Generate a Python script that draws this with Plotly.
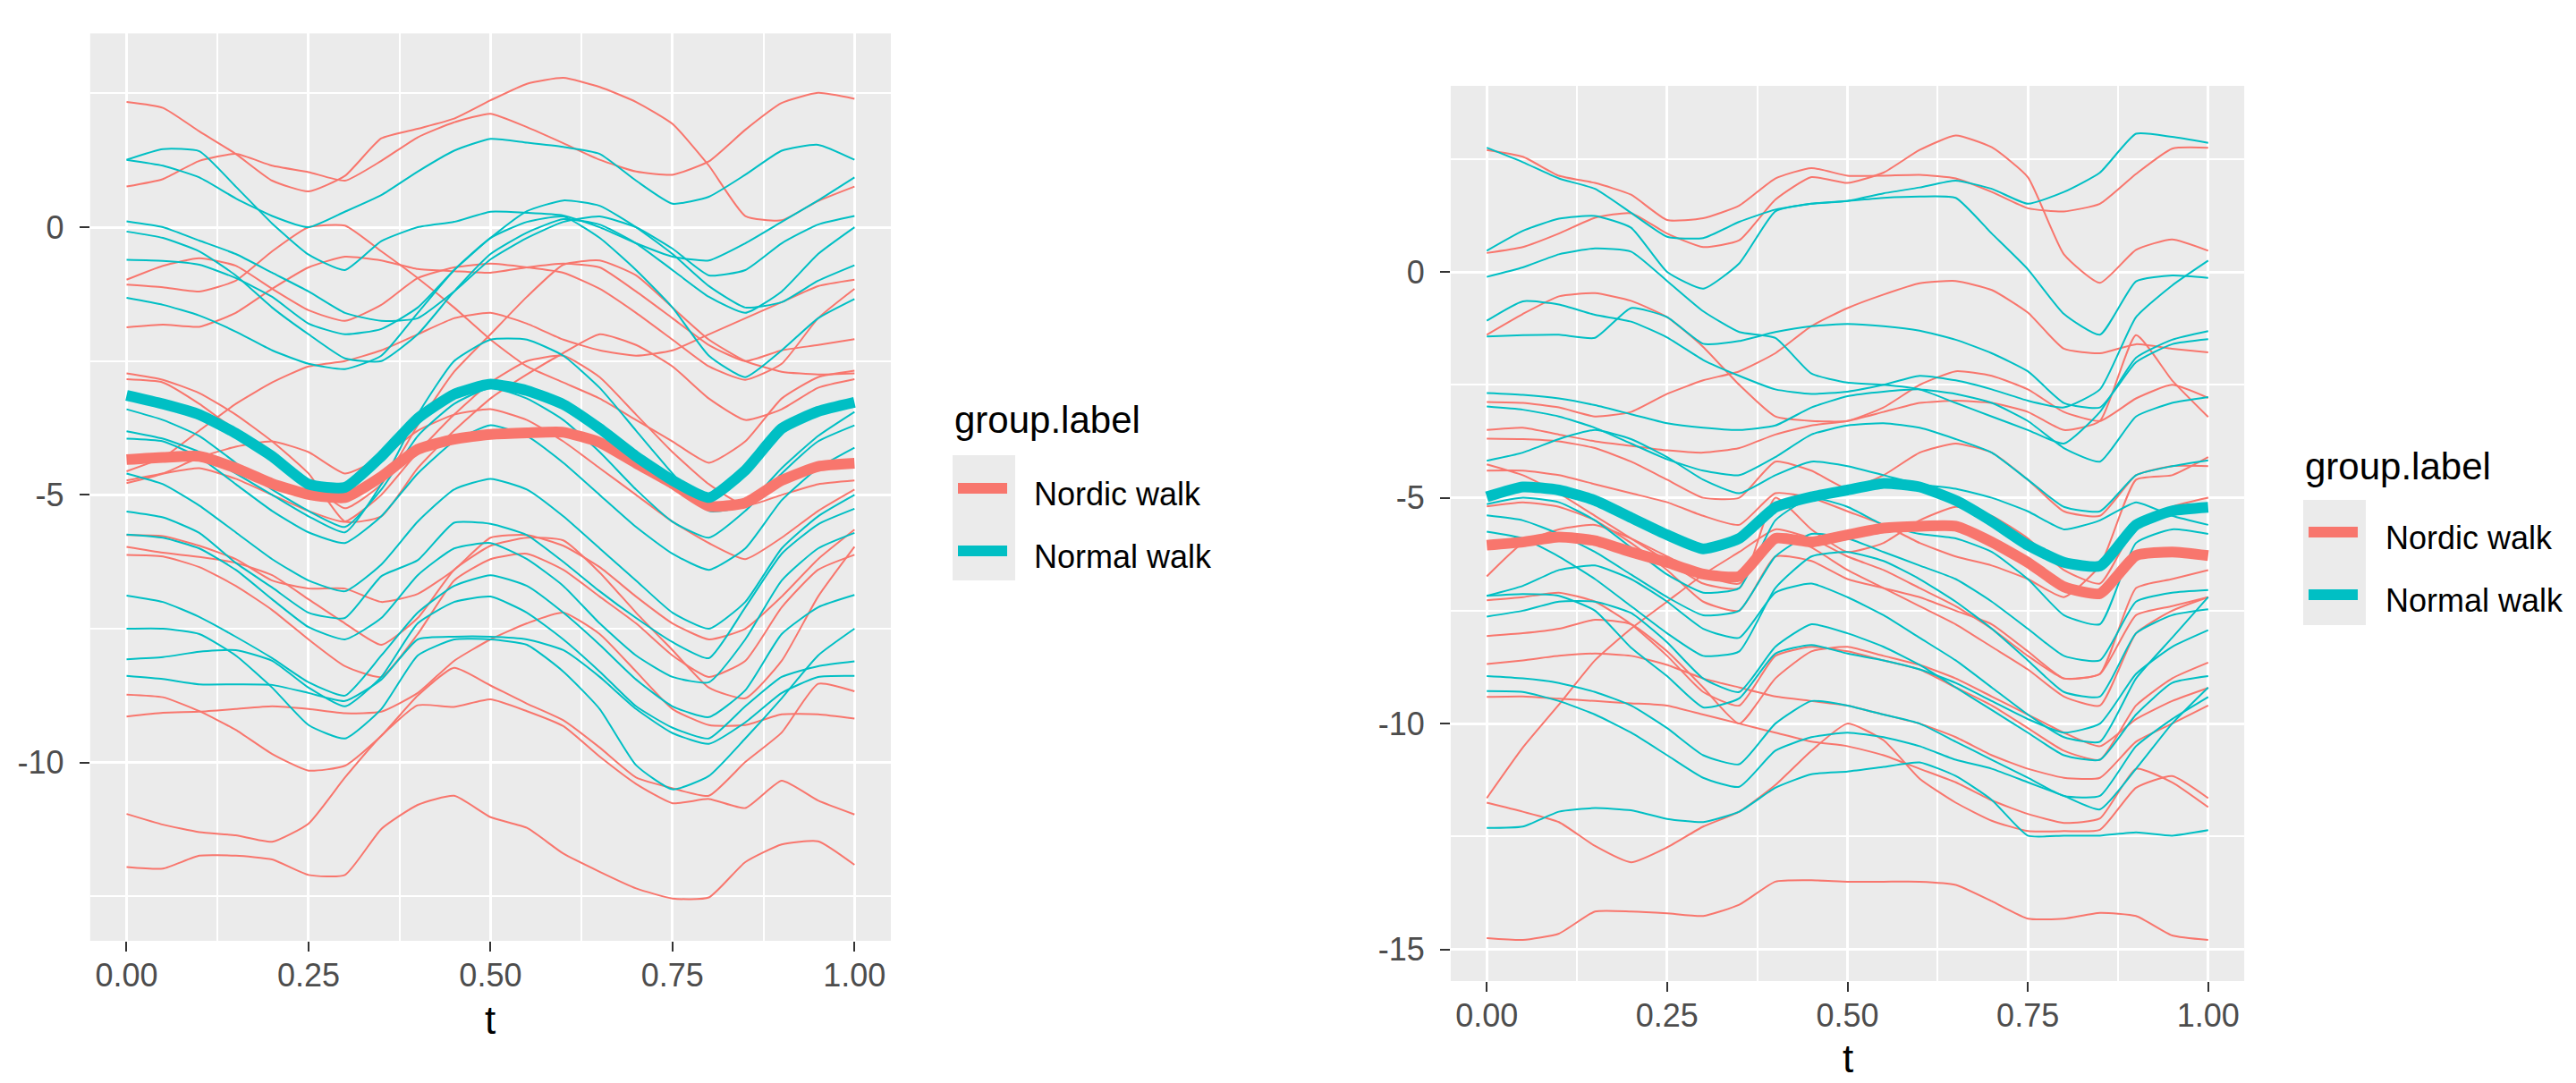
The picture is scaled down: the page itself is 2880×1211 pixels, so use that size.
import plotly.graph_objects as go

# ---------------- data ----------------
t = [0, 0.05, 0.1, 0.15, 0.2, 0.25, 0.3, 0.35, 0.4, 0.45, 0.5,
     0.55, 0.6, 0.65, 0.7, 0.75, 0.8, 0.85, 0.9, 0.95, 1.0]

group_labels = ["Nordic walk", "Normal walk"]
x_tick_labels = ["0.00", "0.25", "0.50", "0.75", "1.00"]
x_tick_values = [0, 0.25, 0.5, 0.75, 1.0]
left_y_ticks = [-10, -5, 0]
right_y_ticks = [-15, -10, -5, 0]

left_nordic = [
    [2.34, 2.23, 1.79, 1.37, 0.87, 0.67, 0.96, 1.66, 1.84, 2.03, 2.37, 2.68, 2.79, 2.62, 2.34, 1.93, 1.15, 0.21, 0.13, 0.49, 0.76],
    [0.76, 0.90, 1.24, 1.37, 1.15, 1.03, 0.87, 1.24, 1.68, 1.96, 2.12, 1.87, 1.57, 1.26, 1.04, 0.98, 1.23, 1.82, 2.32, 2.51, 2.40],
    [-0.98, -0.72, -0.58, -0.72, -1.15, -1.55, -1.75, -1.45, -0.95, -0.75, -0.68, -0.75, -0.85, -1.15, -1.6, -2.1, -2.6, -2.85, -2.55, -1.7, -1.15],
    [-1.07, -1.12, -1.2, -1.0, -0.45, 0.0, 0.03, -0.45, -0.95, -1.5, -2.1, -2.6, -2.9, -3.2, -3.6, -4.0, -4.4, -4.0, -3.2, -2.8, -2.68],
    [-1.87, -1.82, -1.86, -1.6, -1.15, -0.75, -0.55, -0.62, -0.78, -0.82, -0.85, -0.75, -0.68, -0.75, -1.2, -1.7, -2.2, -2.5, -2.3, -2.2, -2.09],
    [-2.73, -2.85, -3.1, -3.5, -4.0, -4.6, -5.5, -5.4, -4.5, -3.8, -3.2, -2.75, -2.35, -2.0, -2.2, -2.6, -3.2, -3.6, -3.4, -3.0, -2.84],
    [-2.84, -2.9, -3.3, -3.8, -4.3, -4.75, -5.25, -4.8, -3.7, -2.7, -2.0, -1.3, -0.7, -0.62, -0.9, -1.5, -2.1, -2.5, -2.7, -2.75, -2.73],
    [-4.56, -4.3, -3.8, -3.3, -2.9, -2.6, -2.5, -2.3, -2.0, -1.7, -1.6, -1.8, -2.1, -2.3, -2.4, -2.3, -2.0, -1.7, -1.4, -1.1, -0.98],
    [-4.73, -4.6, -4.5, -4.7, -5.0, -5.3, -5.5, -5.0, -4.2, -3.5, -2.9, -2.5, -2.4, -2.8, -3.5, -4.2, -4.8, -5.2, -5.0, -4.8, -4.73],
    [-4.78, -4.6, -4.3, -4.1, -4.0, -4.2, -4.6, -4.3, -3.8, -3.5, -3.4, -3.6, -4.0, -4.5, -5.0, -5.5, -5.9, -6.2, -5.8, -5.3, -4.9],
    [-5.75, -5.77, -5.95, -6.2, -6.6, -6.75, -6.75, -7.0, -6.85, -6.4, -5.8, -5.75, -5.95, -6.35, -6.9, -7.4, -7.7, -7.5, -6.9, -6.2, -5.65],
    [-5.97, -6.08, -6.16, -6.27, -6.5, -6.95, -7.4, -7.8, -7.3, -6.4, -5.95, -5.8, -5.85, -6.45, -7.2, -7.9, -8.6, -8.8, -8.1, -6.9, -5.97],
    [-6.12, -6.15, -6.35, -6.7, -7.15, -7.7, -8.2, -8.4, -7.6, -6.6, -6.2, -6.1, -6.4, -6.9, -7.4, -8.0, -8.4, -8.1, -7.1, -6.4, -6.12],
    [-8.73, -8.78, -9.04, -9.39, -9.84, -10.15, -10.06, -9.5, -8.75, -8.23, -8.56, -8.9, -9.21, -9.72, -10.28, -10.48, -10.62, -9.99, -9.44, -8.53, -8.67],
    [-9.14, -9.07, -9.05, -9.0, -8.95, -9.0, -9.08, -9.05, -8.7, -8.1, -7.7, -7.4, -7.2, -7.6, -8.3, -9.0, -9.3, -9.3, -9.1, -9.1, -9.18],
    [-10.96, -11.16, -11.3, -11.36, -11.48, -11.14, -10.28, -9.5, -8.93, -8.96, -8.82, -9.04, -9.32, -9.89, -10.4, -10.76, -10.68, -10.85, -10.34, -10.71, -10.97],
    [-11.95, -11.98, -11.74, -11.74, -11.81, -12.1, -12.1, -11.24, -10.79, -10.62, -11.02, -11.22, -11.7, -12.04, -12.35, -12.54, -12.52, -11.86, -11.53, -11.47, -11.91],
]

left_normal = [
    [1.26, 1.46, 1.42, 0.76, 0.07, -0.51, -0.80, -0.26, 0.00, 0.10, 0.29, 0.27, 0.22, 0.0, -0.3, -0.55, -0.62, -0.3, 0.1, 0.5, 0.93],
    [1.26, 1.15, 0.93, 0.54, 0.21, 0.0, 0.29, 0.6, 1.04, 1.43, 1.65, 1.58, 1.5, 1.37, 0.87, 0.44, 0.57, 0.98, 1.43, 1.54, 1.26],
    [0.11, 0.0, -0.25, -0.5, -0.85, -1.2, -1.6, -1.75, -1.7, -1.2, -0.6, -0.2, 0.1, 0.2, 0.0, -0.4, -0.9, -0.8, -0.3, 0.05, 0.21],
    [-0.08, -0.2, -0.45, -0.9, -1.5, -2.0, -2.45, -2.5, -2.0, -1.2, -0.5, -0.1, 0.15, 0.05, -0.3, -0.8, -1.3, -1.6, -1.2, -0.5, 0.0],
    [-0.61, -0.63, -0.7, -0.95, -1.3, -1.8, -2.0, -1.9, -1.5, -0.8, -0.2, 0.3, 0.5, 0.4, 0.0, -0.5, -1.1, -1.5, -1.4, -1.0, -0.71],
    [-1.32, -1.45, -1.65, -1.95, -2.3, -2.55, -2.65, -2.4, -1.6, -0.8, -0.2, 0.1, 0.2, -0.2, -0.8, -1.5, -2.4, -2.8, -2.3, -1.7, -1.34],
    [-3.81, -3.95, -4.2, -4.6, -5.0, -5.4, -5.7, -4.8, -3.5, -2.5, -2.1, -2.1, -2.4, -3.0, -3.8, -4.6, -5.3, -5.2, -4.5, -3.9, -3.45],
    [-3.95, -4.0, -4.3, -4.8, -5.3, -5.7, -5.9, -5.4, -4.6, -4.0, -3.7, -3.9, -4.4, -5.0, -5.6, -6.1, -6.4, -6.0, -5.1, -4.5, -4.12],
    [-3.4, -3.6, -3.9, -4.4, -4.9, -5.3, -5.6, -4.9, -3.9, -3.3, -3.0, -3.2, -3.6, -4.2, -4.9, -5.5, -5.8, -5.3, -4.6, -4.0, -3.70],
    [-4.6, -4.8, -5.2, -5.7, -6.2, -6.6, -6.8, -6.3, -5.5, -4.9, -4.7, -4.9, -5.4, -6.0, -6.6, -7.2, -7.5, -7.0, -6.0, -5.4, -5.0],
    [-5.31, -5.42, -5.71, -6.27, -6.73, -7.2, -7.3, -6.52, -6.22, -5.52, -5.54, -5.75, -6.25, -6.8, -7.3, -7.75, -8.05, -7.1, -6.1, -5.55, -5.26],
    [-5.74, -5.8, -6.0, -6.4, -6.95, -7.47, -7.7, -7.3, -6.5, -6.0, -5.9, -6.2, -6.7, -7.4, -8.0, -8.4, -8.5, -7.7, -6.6, -6.0, -5.71],
    [-6.88, -7.0, -7.28, -7.65, -8.05, -8.5, -8.75, -8.0, -7.2, -6.7, -6.5, -6.7, -7.2, -7.8, -8.45, -8.95, -9.15, -8.65, -7.6, -7.1, -6.87],
    [-7.5, -7.5, -7.6, -8.0, -8.6, -9.3, -9.55, -9.0, -8.0, -7.7, -7.7, -7.8, -8.3, -9.0, -10.05, -10.5, -10.25, -9.55, -8.8, -8.0, -7.5],
    [-8.07, -8.03, -7.93, -7.9, -8.1, -8.6, -8.95, -8.4, -7.4, -7.0, -6.9, -7.2, -7.7, -8.3, -8.95, -9.35, -9.55, -8.95, -8.4, -8.2, -8.11],
    [-8.38, -8.44, -8.54, -8.54, -8.55, -8.7, -8.85, -8.45, -7.7, -7.65, -7.65, -7.7, -7.9, -8.4, -9.0, -9.45, -9.65, -9.25, -8.7, -8.4, -8.38],
]

left_mean_nordic = [-4.34, -4.30, -4.28, -4.5, -4.79, -4.99, -5.05, -4.66, -4.15, -3.96, -3.87, -3.84, -3.83, -4.02, -4.41, -4.79, -5.21, -5.15, -4.73, -4.47, -4.41]
left_mean_normal = [-3.14, -3.3, -3.5, -3.85, -4.28, -4.8, -4.86, -4.28, -3.57, -3.12, -2.93, -3.05, -3.31, -3.76, -4.28, -4.73, -5.05, -4.54, -3.76, -3.44, -3.27]

right_nordic = [
    [2.70, 2.55, 2.13, 1.97, 1.71, 1.15, 1.19, 1.47, 2.07, 2.3, 2.13, 2.13, 2.15, 2.07, 1.77, 1.41, 1.34, 1.51, 2.17, 2.73, 2.75],
    [0.42, 0.55, 0.85, 1.2, 1.3, 0.85, 0.55, 0.7, 1.6, 2.1, 1.97, 2.2, 2.7, 3.02, 2.76, 2.1, 0.39, -0.24, 0.49, 0.72, 0.47],
    [-1.39, -0.93, -0.54, -0.47, -0.64, -1.0, -1.66, -2.5, -3.2, -3.3, -3.3, -3.0, -2.5, -2.2, -2.3, -2.6, -3.1, -3.3, -2.8, -2.5, -2.79],
    [-2.88, -2.9, -3.0, -3.2, -3.1, -2.7, -2.4, -2.2, -1.8, -1.2, -0.8, -0.5, -0.25, -0.2, -0.4, -0.9, -1.7, -1.8, -1.6, -1.7, -1.78],
    [-3.5, -3.45, -3.6, -3.75, -3.85, -3.95, -4.0, -3.9, -3.6, -3.4, -3.3, -3.1, -2.9, -2.85, -2.9, -3.1, -3.5, -3.3, -1.4, -2.4, -3.21],
    [-3.69, -3.7, -3.75, -3.9, -4.2, -4.6, -5.0, -5.0, -4.2, -4.4, -4.8, -4.5, -4.0, -3.8, -4.0, -4.6, -5.3, -5.4, -4.5, -4.3, -4.3],
    [-4.26, -4.5, -4.9, -5.4, -5.9, -6.4, -6.9, -7.0, -5.0, -5.7, -6.2, -6.0, -5.5, -5.2, -5.4, -5.9, -6.6, -6.9, -5.6, -5.2, -5.0],
    [-4.4, -4.4, -4.5, -4.7, -4.9, -5.1, -5.4, -5.6, -4.9, -5.0, -5.3, -5.6, -6.0, -6.3, -6.5, -6.8, -7.2, -6.5, -4.6, -4.5, -4.1],
    [-5.19, -5.1, -5.2, -5.5, -6.0, -6.6, -7.3, -7.5, -6.3, -6.4, -6.8, -7.0, -7.2, -7.5, -7.8, -8.4, -9.0, -8.9, -7.0, -6.8, -6.6],
    [-6.74, -6.0, -5.7, -5.6, -5.9, -6.3, -6.7, -6.9, -5.8, -6.1, -6.6, -7.0, -7.4, -7.8, -8.3, -8.8, -9.4, -9.6, -8.0, -7.5, -7.2],
    [-7.27, -7.2, -7.1, -7.3, -7.8, -8.5, -9.3, -9.6, -8.5, -8.3, -8.4, -8.6, -8.8, -9.2, -9.6, -10.1, -10.6, -10.8, -9.6, -9.0, -8.65],
    [-8.06, -8.0, -7.9, -7.7, -7.8, -8.4, -9.2, -10.0, -9.0, -8.4, -8.3, -8.5, -8.7, -9.0, -9.4, -9.8, -10.2, -10.5, -9.9, -9.5, -9.21],
    [-8.68, -8.6, -8.5, -8.45, -8.5, -8.7, -9.0, -9.2, -9.4, -9.5, -9.6, -9.8, -10.0, -10.3, -10.7, -11.0, -11.2, -11.2, -10.4, -10.0, -9.6],
    [-9.41, -9.4, -9.45, -9.5, -9.55, -9.6, -9.8, -10.0, -10.2, -10.4, -10.5, -10.7, -11.0, -11.3, -11.7, -12.0, -12.2, -12.1, -11.0, -11.3, -11.85],
    [-11.65, -10.53, -9.58, -8.6, -7.9, -7.3, -6.7, -6.2, -5.7, -5.9, -6.3, -6.6, -7.0, -7.4, -7.9, -8.5, -9.0, -8.9, -7.6, -7.4, -7.2],
    [-11.75, -11.95, -12.18, -12.71, -13.07, -12.74, -12.28, -11.95, -11.36, -10.6, -10.0, -10.37, -11.22, -11.75, -12.15, -12.38, -12.38, -12.35, -11.42, -11.16, -11.65],
    [-14.75, -14.79, -14.65, -14.16, -14.16, -14.2, -14.26, -14.01, -13.5, -13.47, -13.5, -13.5, -13.5, -13.57, -13.93, -14.32, -14.32, -14.19, -14.26, -14.69, -14.79],
]

right_normal = [
    [2.75, 2.43, 2.07, 1.84, 1.31, 0.78, 0.75, 1.11, 1.38, 1.51, 1.57, 1.74, 1.87, 2.02, 1.84, 1.51, 1.77, 2.2, 3.06, 2.99, 2.86],
    [0.47, 0.91, 1.18, 1.24, 0.98, 0.0, -0.37, 0.19, 1.34, 1.51, 1.57, 1.64, 1.67, 1.64, 0.85, 0.06, -0.93, -1.39, -0.21, -0.08, -0.13],
    [-0.11, 0.1, 0.39, 0.52, 0.45, -0.2, -0.87, -1.33, -1.46, -2.25, -2.45, -2.5, -2.6, -2.9, -3.2, -3.5, -3.8, -3.1, -1.9, -1.5, -1.31],
    [-1.08, -0.65, -0.72, -0.95, -1.1, -1.45, -1.95, -2.3, -2.6, -2.7, -2.65, -2.5, -2.3, -2.4, -2.6, -2.85, -3.0, -2.6, -1.0, -0.3, 0.25],
    [-1.43, -1.40, -1.39, -1.46, -0.8, -1.0, -1.59, -1.53, -1.33, -1.2, -1.15, -1.2, -1.3, -1.5, -1.8, -2.2, -2.9, -3.0, -2.0, -1.6, -1.49],
    [-2.68, -2.72, -2.8, -2.95, -3.15, -3.35, -3.45, -3.5, -3.4, -3.0, -2.75, -2.65, -2.6, -2.7, -2.9, -3.3, -3.9, -4.2, -3.2, -2.9, -2.77],
    [-2.98, -3.05, -3.2, -3.45, -3.8, -4.15, -4.4, -4.5, -4.1, -3.6, -3.4, -3.35, -3.45, -3.7, -4.0, -4.6, -5.2, -5.3, -4.5, -4.3, -4.17],
    [-4.18, -4.0, -3.7, -3.5, -3.7, -4.1, -4.6, -4.9, -4.5, -4.2, -4.3, -4.5, -4.7, -4.8, -5.0, -5.3, -5.7, -5.5, -5.1, -5.4, -5.6],
    [-5.14, -5.0, -5.1, -5.5, -6.1, -6.7, -7.1, -7.0, -5.5, -5.0, -5.2, -5.6, -5.8, -5.9, -6.2, -6.8, -7.6, -7.8, -6.0, -5.7, -5.8],
    [-5.39, -5.5, -5.8, -6.2, -6.7, -7.2, -7.6, -7.5, -6.3, -5.8, -5.9, -6.2, -6.5, -6.8, -7.3, -7.9, -8.5, -8.6, -7.3, -7.1, -7.04],
    [-5.75, -5.9, -6.3, -6.8, -7.4, -8.0, -8.5, -8.4, -7.0, -6.3, -6.2, -6.4, -6.8, -7.3, -7.9, -8.6, -9.3, -9.4, -8.0, -7.6, -7.47],
    [-7.17, -7.13, -7.17, -7.5, -8.32, -8.95, -9.64, -9.44, -8.45, -8.26, -8.45, -8.6, -8.8, -9.1, -9.5, -9.9, -10.2, -10.0, -8.9, -8.3, -7.93],
    [-7.17, -6.95, -6.6, -6.5, -6.8, -7.3, -7.9, -8.1, -7.1, -6.9, -7.2, -7.6, -8.1, -8.6, -9.2, -9.8, -10.3, -10.4, -9.0, -8.1, -7.2],
    [-7.63, -7.5, -7.3, -7.3, -7.55, -8.2, -9.0, -9.3, -8.3, -7.8, -8.0, -8.3, -8.7, -9.2, -9.7, -10.2, -10.7, -10.8, -9.8, -9.1, -8.95],
    [-8.95, -9.0, -9.1, -9.3, -9.6, -10.1, -10.7, -10.9, -10.0, -9.5, -9.6, -9.8, -10.0, -10.4, -10.8, -11.2, -11.6, -11.6, -10.5, -9.9, -9.41],
    [-9.28, -9.3, -9.5, -9.8, -10.2, -10.7, -11.2, -11.4, -10.6, -10.3, -10.2, -10.3, -10.5, -10.8, -11.0, -11.3, -11.6, -11.9, -11.0, -10.0, -9.2],
    [-12.31, -12.28, -11.95, -11.87, -11.92, -12.11, -12.18, -11.95, -11.42, -11.12, -11.06, -10.96, -10.86, -11.16, -11.69, -12.48, -12.48, -12.48, -12.41, -12.48, -12.36],
]

right_mean_nordic = [-6.05, -5.98, -5.87, -5.95, -6.2, -6.43, -6.69, -6.74, -5.9, -5.98, -5.82, -5.67, -5.63, -5.63, -5.98, -6.43, -6.97, -7.12, -6.28, -6.2, -6.28]
right_mean_normal = [-4.98, -4.76, -4.83, -5.06, -5.44, -5.82, -6.13, -5.9, -5.21, -4.98, -4.83, -4.68, -4.76, -5.06, -5.52, -6.05, -6.43, -6.51, -5.6, -5.29, -5.21]

# ---------------- style ----------------
RED = "#F8766D"
CYAN = "#00BFC4"
FONT = "Liberation Sans, Arial, Helvetica, sans-serif"
W, H = 2880, 1211


def fx(p):
    return p / W


def fy(p):
    return 1 - p / H


fig = go.Figure()


def add_lines(curves, color, xa, ya, width):
    for c in curves:
        fig.add_trace(go.Scatter(
            x=t, y=c, mode="lines", xaxis=xa, yaxis=ya,
            line=dict(color=color, width=width, shape="spline", smoothing=0.5),
            showlegend=False, hoverinfo="skip"))


add_lines(left_nordic, RED, "x", "y", 2)
add_lines(left_normal, CYAN, "x", "y", 2)
add_lines([left_mean_nordic], RED, "x", "y", 12)
add_lines([left_mean_normal], CYAN, "x", "y", 12)

add_lines(right_nordic, RED, "x2", "y2", 2)
add_lines(right_normal, CYAN, "x2", "y2", 2)
add_lines([right_mean_nordic], RED, "x2", "y2", 12)
add_lines([right_mean_normal], CYAN, "x2", "y2", 12)

axis_common = dict(
    showgrid=True, gridcolor="white", gridwidth=2.6, zeroline=False,
    showline=False, ticks="outside", ticklen=11, tickwidth=2.4,
    tickcolor="#333333", tickfont=dict(family=FONT, size=36, color="#4D4D4D"),
)
minor_x = dict(tickvals=[0.125, 0.375, 0.625, 0.875], showgrid=True,
               gridcolor="white", gridwidth=1.5, ticks="")
minor_y = dict(tickvals=[-12.5, -7.5, -2.5, 2.5], showgrid=True,
               gridcolor="white", gridwidth=1.5, ticks="")

fig.update_layout(
    width=W, height=H,
    margin=dict(l=0, r=0, t=0, b=0),
    paper_bgcolor="white", plot_bgcolor="#EBEBEB",
    xaxis=dict(domain=[fx(92.8), fx(988)], range=[-0.05, 1.05],
               tickvals=x_tick_values, ticktext=x_tick_labels, minor=minor_x,
               anchor="y", ticklabelstandoff=-4, **axis_common),
    yaxis=dict(domain=[fy(1044), fy(29.4)], range=[-13.33, 3.62],
               tickvals=left_y_ticks, ticktext=[str(v) for v in left_y_ticks], minor=minor_y,
               anchor="x", ticklabelstandoff=10, **axis_common),
    xaxis2=dict(domain=[fx(1613.9), fx(2501.1)], range=[-0.05, 1.05],
                tickvals=x_tick_values, ticktext=x_tick_labels, minor=minor_x,
                anchor="y2", ticklabelstandoff=-4, **axis_common),
    yaxis2=dict(domain=[fy(1089), fy(88)], range=[-15.7, 4.12],
                tickvals=right_y_ticks, ticktext=[str(v) for v in right_y_ticks], minor=minor_y,
                anchor="x2", ticklabelstandoff=10, **axis_common),
)

annotations = []
shapes = []

# axis titles
for xc, yc in [(540.4, 1132), (2057.5, 1175)]:
    annotations.append(dict(text="t", x=fx(xc), y=fy(yc), xref="paper", yref="paper",
                            xanchor="center", yanchor="middle", showarrow=False,
                            font=dict(family=FONT, size=44, color="black")))


# legends (ggplot style)
def legend(title_x, title_mid, box_top, key_c1, key_c2, key_x0, key_x1, label_x, lab1, lab2):
    annotations.append(dict(text="group.label", x=fx(title_x), y=fy(title_mid),
                            xref="paper", yref="paper", xanchor="left", yanchor="middle",
                            showarrow=False, font=dict(family=FONT, size=42, color="black")))
    shapes.append(dict(type="rect", xref="paper", yref="paper",
                       x0=fx(title_x), x1=fx(title_x + 70), y0=fy(box_top), y1=fy(box_top + 140),
                       fillcolor="#EBEBEB", line=dict(width=0), layer="below"))
    for yc, col, lab, lab_y in [(key_c1, RED, group_labels[0], lab1), (key_c2, CYAN, group_labels[1], lab2)]:
        shapes.append(dict(type="line", xref="paper", yref="paper",
                           x0=fx(key_x0), x1=fx(key_x1), y0=fy(yc), y1=fy(yc),
                           line=dict(color=col, width=12)))
        annotations.append(dict(text=lab, x=fx(label_x), y=fy(lab_y), xref="paper", yref="paper",
                                xanchor="left", yanchor="middle", showarrow=False,
                                font=dict(family=FONT, size=36, color="black")))


legend(1057, 462, 501, 538, 608, 1063, 1118, 1146, 544, 614)
legend(2567, 513, 551, 587, 657, 2573, 2628, 2657, 593, 663)

fig.update_layout(annotations=annotations, shapes=shapes)
fig.write_html("out.html")
